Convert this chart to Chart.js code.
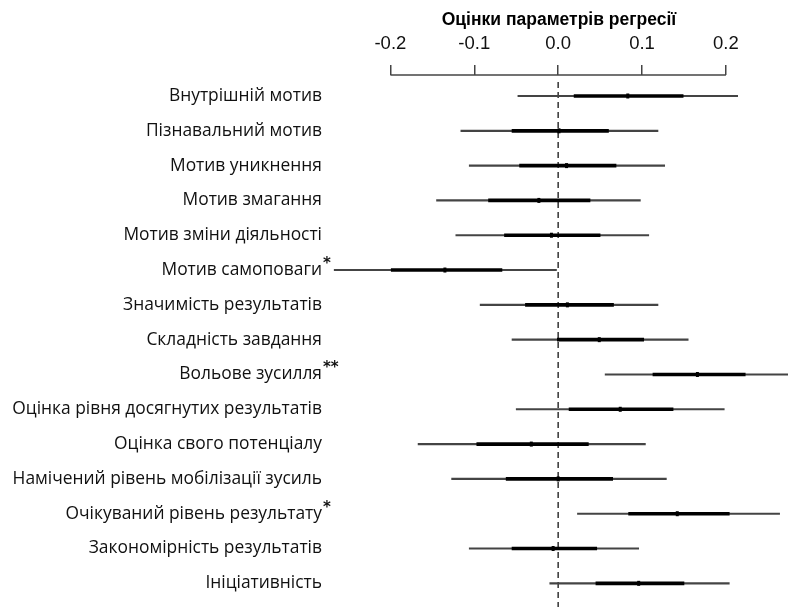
<!DOCTYPE html>
<html>
<head>
<meta charset="utf-8">
<script src="https://cdn.jsdelivr.net/npm/chart.js@4.4.0/dist/chart.umd.min.js"></script>
<style>
  body { margin: 0; background: #fff; }
  #wrap { width: 788px; height: 607px; }
</style>
</head>
<body>
<div id="wrap"><canvas id="coefChart" width="788" height="607"></canvas></div>
<script>
// --- Дані: оцінки параметрів регресії ---
const labels = [
    'Внутрішній мотив',
    'Пізнавальний мотив',
    'Мотив уникнення',
    'Мотив змагання',
    'Мотив зміни діяльності',
    'Мотив самоповаги',
    'Значимість результатів',
    'Складність завдання',
    'Вольове зусилля',
    'Оцінка рівня досягнутих результатів',
    'Оцінка свого потенціалу',
    'Намічений рівень мобілізації зусиль',
    'Очікуваний рівень результату',
    'Закономірність результатів',
    'Ініціативність'
];
const stars = ['', '', '', '', '', '*', '', '', '**', '', '', '', '*', '', ''];

const estimates = [0.083, 0.001, 0.010, -0.023, -0.008, -0.135, 0.011, 0.049, 0.166, 0.074, -0.032, 0.000, 0.142, -0.006, 0.096];
const innerLow  = [0.019, -0.055, -0.046, -0.083, -0.064, -0.199, -0.039, -0.001, 0.113, 0.013, -0.097, -0.062, 0.084, -0.055, 0.045];
const innerHigh = [0.149, 0.060, 0.069, 0.038, 0.050, -0.067, 0.066, 0.102, 0.223, 0.137, 0.036, 0.065, 0.204, 0.046, 0.150];
const outerLow  = [-0.048, -0.116, -0.106, -0.145, -0.122, -0.267, -0.093, -0.055, 0.056, -0.050, -0.167, -0.127, 0.023, -0.106, -0.010];
const outerHigh = [0.214, 0.119, 0.127, 0.098, 0.108, -0.002, 0.119, 0.155, 0.276, 0.198, 0.104, 0.129, 0.264, 0.096, 0.204];

const xTicks = [-0.2, -0.1, 0.0, 0.1, 0.2];
const xTitle = 'Оцінки параметрів регресії';

// нульова пунктирна лінія, верхня вісь і зірочки
const refLines = {
    id: 'refLines',
    beforeDatasetsDraw(chart) {
        const { ctx, chartArea, scales } = chart;
        const x0 = scales.x.getPixelForValue(0);
        ctx.save();
        ctx.strokeStyle = '#333';
        ctx.lineWidth = 1.5;
        ctx.setLineDash([6, 4]);
        ctx.beginPath();
        ctx.moveTo(x0, chartArea.top + 7);
        ctx.lineTo(x0, chart.height);
        ctx.stroke();
        ctx.restore();
    },
    afterDraw(chart) {
        const { ctx, chartArea, scales } = chart;
        ctx.save();
        ctx.strokeStyle = '#444';
        ctx.lineWidth = 1.5;
        ctx.beginPath();
        ctx.moveTo(scales.x.getPixelForValue(xTicks[0]), chartArea.top);
        ctx.lineTo(scales.x.getPixelForValue(xTicks[xTicks.length - 1]), chartArea.top);
        ctx.stroke();

        ctx.font = 'bold 15px "DejaVu Sans"';
        ctx.fillStyle = '#111';
        ctx.textAlign = 'left';
        ctx.textBaseline = 'middle';
        stars.forEach((s, i) => {
            if (!s) return;
            const y = scales.y.getPixelForValue(i + 1);
            ctx.fillText(s, chartArea.left - 7, y - 6);
        });
        ctx.restore();
    }
};

const ctx = document.getElementById('coefChart').getContext('2d');
new Chart(ctx, {
    type: 'bar',
    data: {
        datasets: [
            {
                type: 'scatter',
                data: estimates.map((v, i) => ({ x: v, y: i + 1 })),
                pointStyle: 'line',
                rotation: 90,
                pointRadius: 2.5,
                borderColor: '#000',
                borderWidth: 3,
                showLine: false
            },
            {
                data: innerLow.map((v, i) => ({ x: [v, innerHigh[i]], y: i + 1 })),
                backgroundColor: '#000',
                barThickness: 3,
                grouped: false
            },
            {
                data: outerLow.map((v, i) => ({ x: [v, outerHigh[i]], y: i + 1 })),
                backgroundColor: '#444',
                barThickness: 1.5,
                grouped: false
            }
        ]
    },
    options: {
        indexAxis: 'y',
        responsive: false,
        animation: false,
        layout: { padding: 0, autoPadding: false },
        plugins: {
            legend: { display: false },
            tooltip: { enabled: false }
        },
        scales: {
            x: {
                type: 'linear',
                position: 'top',
                min: -0.272,
                max: 0.274,
                afterBuildTicks(scale) {
                    scale.ticks = xTicks.map(v => ({ value: v }));
                },
                afterFit(scale) {
                    scale.height = 75;
                    scale.paddingLeft = 0;
                    scale.paddingRight = 0;
                },
                ticks: {
                    color: '#111',
                    font: { family: '"Liberation Sans", Arial', size: 18.5 },
                    padding: 10,
                    maxRotation: 0,
                    callback: v => v.toFixed(1)
                },
                grid: {
                    drawOnChartArea: false,
                    drawTicks: true,
                    tickLength: 10,
                    color: '#444',
                    lineWidth: 1.5
                },
                border: { display: false },
                title: {
                    display: true,
                    text: xTitle,
                    color: '#000',
                    font: { family: '"Liberation Sans", Arial', size: 17.5, weight: 'bold' },
                    padding: { top: 10, bottom: 0 }
                }
            },
            y: {
                type: 'linear',
                reverse: true,
                offset: false,
                min: 0.397,
                max: 15.68,
                afterBuildTicks(scale) {
                    scale.ticks = labels.map((_, i) => ({ value: i + 1 }));
                },
                afterFit(scale) {
                    scale.width = 330;
                    scale.paddingTop = 0;
                    scale.paddingBottom = 0;
                },
                ticks: {
                    autoSkip: false,
                    color: '#111',
                    font: { family: '"Open Sans"', size: 17.4 },
                    padding: 8,
                    callback: v => labels[v - 1]
                },
                grid: { display: false, drawTicks: false },
                border: { display: false }
            }
        }
    },
    plugins: [refLines]
});
</script>
</body>
</html>
